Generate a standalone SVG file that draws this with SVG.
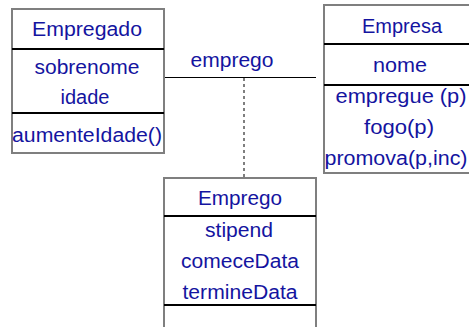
<svg xmlns="http://www.w3.org/2000/svg" width="469" height="327" viewBox="0 0 469 327">
<style>
.box{fill:#ffffff;stroke:#7f7f7f;stroke-width:2}
.div{stroke:#000000;stroke-width:2}
.t{font-family:"Liberation Sans",Arial,sans-serif;font-size:20px;fill:#1414a0;text-anchor:middle}
.assoc{stroke:#000000;stroke-width:1;fill:none}
.dash{stroke:#7f7f7f;stroke-width:2;stroke-dasharray:3 3;fill:none}
</style>
<rect width="469" height="327" fill="#ffffff"/>
<g id="connectors">
<line class="assoc" x1="164" y1="77.5" x2="316" y2="77.5"/>
<line class="dash" x1="244" y1="78" x2="244" y2="178"/>
<text class="t" x="232" y="67" textLength="83" lengthAdjust="spacingAndGlyphs">emprego</text>
</g>
<g id="Empregado">
<rect class="box" x="12" y="9" width="152" height="144"/>
<line class="div" x1="12" y1="49" x2="164" y2="49"/>
<line class="div" x1="12" y1="113" x2="164" y2="113"/>
<text class="t" x="87" y="36" textLength="110" lengthAdjust="spacingAndGlyphs">Empregado</text>
<text class="t" x="87" y="74" textLength="105" lengthAdjust="spacingAndGlyphs">sobrenome</text>
<text class="t" x="85" y="104">idade</text>
<text class="t" x="87" y="142" textLength="150" lengthAdjust="spacingAndGlyphs">aumenteIdade()</text>
</g>
<g id="Empresa">
<rect class="box" x="324" y="5" width="146" height="168"/>
<line class="div" x1="324" y1="44" x2="470" y2="44"/>
<line class="div" x1="324" y1="85" x2="470" y2="85"/>
<text class="t" x="402" y="33" textLength="80" lengthAdjust="spacingAndGlyphs">Empresa</text>
<text class="t" x="400" y="72" textLength="54" lengthAdjust="spacingAndGlyphs">nome</text>
<text class="t" x="401" y="103" textLength="131" lengthAdjust="spacingAndGlyphs">empregue (p)</text>
<text class="t" x="399" y="134" textLength="70" lengthAdjust="spacingAndGlyphs">fogo(p)</text>
<text class="t" x="396" y="165" textLength="143" lengthAdjust="spacingAndGlyphs">promova(p,inc)</text>
</g>
<g id="Emprego">
<rect class="box" x="164" y="178" width="152" height="155"/>
<line class="div" x1="164" y1="216" x2="316" y2="216"/>
<line class="div" x1="164" y1="305" x2="316" y2="305"/>
<text class="t" x="240" y="205" textLength="84" lengthAdjust="spacingAndGlyphs">Emprego</text>
<text class="t" x="239" y="237" textLength="68" lengthAdjust="spacingAndGlyphs">stipend</text>
<text class="t" x="240" y="268" textLength="118" lengthAdjust="spacingAndGlyphs">comeceData</text>
<text class="t" x="240" y="299" textLength="115" lengthAdjust="spacingAndGlyphs">termineData</text>
</g>
</svg>
